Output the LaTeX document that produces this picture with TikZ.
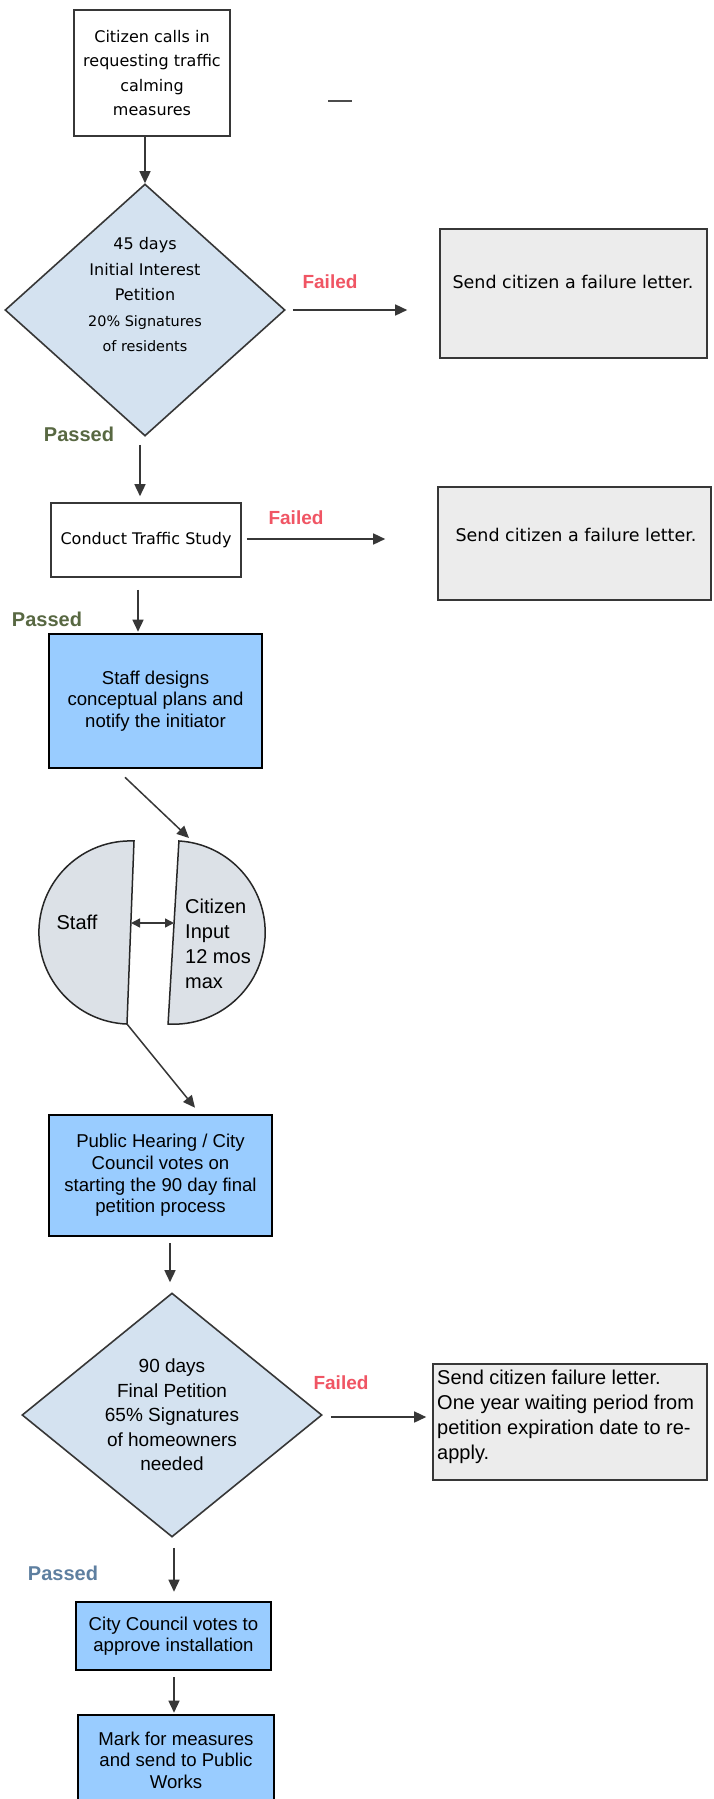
\documentclass[tikz,border=0pt]{standalone}
\usepackage{fontspec}
\usetikzlibrary{arrows.meta,shapes.geometric,calc}
\newfontfamily\verd{DejaVu Sans}
\newfontfamily\ari{Liberation Sans}
\definecolor{dgray}{RGB}{55,55,55}
\definecolor{dfill}{RGB}{212,226,240}
\definecolor{gfill}{RGB}{236,236,236}
\definecolor{cfill}{RGB}{220,225,231}
\definecolor{bfill}{RGB}{153,204,255}
\definecolor{failc}{RGB}{240,85,100}
\definecolor{passg}{RGB}{88,104,66}
\definecolor{passb}{RGB}{94,127,160}
\begin{document}
\begin{tikzpicture}[x=1pt,y=1pt,
  wbox/.style={draw=dgray,line width=1.6pt,fill=white,rectangle,inner sep=0pt,align=center,font=\verd\fontsize{16}{24.5}\selectfont},
  gbox/.style={draw=dgray,line width=1.6pt,fill=gfill,rectangle,inner sep=0pt},
  bbox/.style={draw=black,line width=2.6pt,fill=bfill,rectangle,inner sep=0pt,align=center,font=\ari\fontsize{18.6}{21.6}\selectfont},
  dia/.style={draw=dgray,line width=1.6pt,fill=dfill,diamond,inner sep=0pt,align=center},
  half/.style={draw=black!85,line width=1.5pt,fill=cfill},
  arr/.style={draw=dgray,line width=1.5pt,-{Triangle[length=12pt,width=11pt]}},
  darr/.style={draw=dgray,line width=1.4pt,{Triangle[length=9pt,width=9pt]}-{Triangle[length=9pt,width=9pt]}},
  failtxt/.style={text=failc,inner sep=0pt,font=\ari\bfseries\fontsize{19}{22}\selectfont},
  passtxt/.style={inner sep=0pt,font=\ari\bfseries\fontsize{20}{24}\selectfont},
  vtxt/.style={inner sep=0pt,font=\verd\fontsize{17.5}{21}\selectfont},
  atxt/.style={inner sep=0pt,font=\ari\fontsize{20}{25}\selectfont}
]
\useasboundingbox (0,0) rectangle (713,-1799);
\fill[white] (0,0) rectangle (713,-1799);

% scan mark
\draw[line width=2pt,black!70] (328,-101) -- (352,-101);

% top box
\node[wbox,minimum width=156,minimum height=126] (b1) at (152,-73)
  {Citizen calls in\\requesting traffic\\calming\\measures};

% diamond 1
\node[dia,minimum width=280,minimum height=252] (d1) at (145,-310) {};
\node[inner sep=0pt,align=center,font=\verd\fontsize{16}{25.5}\selectfont] (d1t) at (145,-295)
  {45 days\\Initial Interest\\Petition\\{\fontsize{14.4}{25.5}\selectfont 20\% Signatures}\\{\fontsize{14.4}{25.5}\selectfont of residents}};
\draw[arr] (b1.south -| d1.north) -- (d1.north);

% fail 1
\node[gbox,minimum width=267,minimum height=129] (f1) at (573.5,-293.5) {};
\node[vtxt] (f1t) at (573,-282) {Send citizen a failure letter.};
\node[failtxt] (fl1) at (330,-282) {Failed};
\draw[arr] ([xshift=7pt]d1.east) -- ([xshift=-32pt]d1.east -| f1.west);

\node[passtxt,text=passg] (p1) at (79,-434) {Passed};

% box 2
\node[wbox,minimum width=190,minimum height=74] (b2) at (146,-540) {Conduct Traffic Study};
\draw[arr] ($(d1.south)+(-5,-8)$) -- ($(b2.north)+(-6,6)$);

% fail 2
\node[gbox,minimum width=273,minimum height=113] (f2) at (574.5,-543.5) {};
\node[vtxt] (f2t) at (576,-535) {Send citizen a failure letter.};
\node[failtxt] (fl2) at (296,-518) {Failed};
\draw[arr] ([xshift=5pt,yshift=1pt]b2.east) -- ([xshift=-52pt,yshift=1pt]b2.east -| f2.west);

\node[passtxt,text=passg] (p2) at (47,-619) {Passed};

% box 3
\node[bbox,minimum width=213,minimum height=134] (b3) at (155.5,-701)
  {Staff designs\\conceptual plans and\\notify the initiator};
\draw[arr] ($(b2.south)+(-8,-12)$) -- ($(b3.north)+(-17.5,1)$);

% split circle
\coordinate (cLc) at (130.5,-932.5);
\coordinate (cRc) at (173.5,-932.5);
\draw[half] (cLc) ++(87.8:91.6) coordinate (cLt) arc[start angle=87.8,end angle=267.8,radius=91.6] coordinate (cLb) -- cycle;
\draw[half] (cRc) ++(-93.4:91.7) coordinate (cRb) arc[start angle=-93.4,end angle=86.6,radius=91.7] coordinate (cRt) -- cycle;
\coordinate (cin) at (189,-838);
\draw[arr] ($(b3.south)+(-30.5,-8)$) -- (cin);
\node[atxt] (staff) at (77,-922) {Staff};
\node[atxt,align=left,anchor=west] (cit) at (185,-944) {Citizen\\Input\\12 mos\\max};
\coordinate (dl) at (131,-923);
\coordinate (dr) at (174,-923);
\draw[darr] (dl) -- (dr);

% box 4
\node[bbox,minimum width=223,minimum height=121] (b4) at (160.5,-1175.5)
  {Public Hearing / City\\Council votes on\\starting the 90 day final\\petition process};
\draw[arr] (cLb) -- ($(b4.north)+(34.5,6)$);

% diamond 2
\node[dia,aspect=1.23,minimum width=300,minimum height=244,font=\ari\fontsize{19}{24.5}\selectfont] (d2) at (172,-1415)
  {90 days\\Final Petition\\65\% Signatures\\of homeowners\\needed};
\draw[arr] ($(b4.south)+(9.5,-6)$) -- ($(d2.north)+(-2,10)$);

% fail 3
\node[gbox,minimum width=274,minimum height=116] (f3) at (570,-1422) {};
\node[atxt,align=left,anchor=west] (f3t) at (437,-1417)
  {Send citizen failure letter.\\One year waiting period from\\petition expiration date to re-\\apply.};
\node[failtxt] (fl3) at (341,-1383) {Failed};
\draw[arr] ([xshift=8pt,yshift=-2pt]d2.east) -- ([xshift=-6pt,yshift=-2pt]d2.east -| f3.west);

\node[passtxt,text=passb] (p3) at (63,-1573) {Passed};

% box 5
\node[bbox,minimum width=195,minimum height=68] (b5) at (173.5,-1636)
  {City Council votes to\\approve installation};
\draw[arr] ($(d2.south)+(2,-10)$) -- ($(b5.north)+(0.5,9)$);

% box 6
\node[bbox,minimum width=196,minimum height=90] (b6) at (176,-1760)
  {Mark for measures\\and send to Public\\Works};
\draw[arr] ($(b5.south)+(0.5,-6)$) -- ($(b6.north)+(-2,1)$);
\end{tikzpicture}
\end{document}
